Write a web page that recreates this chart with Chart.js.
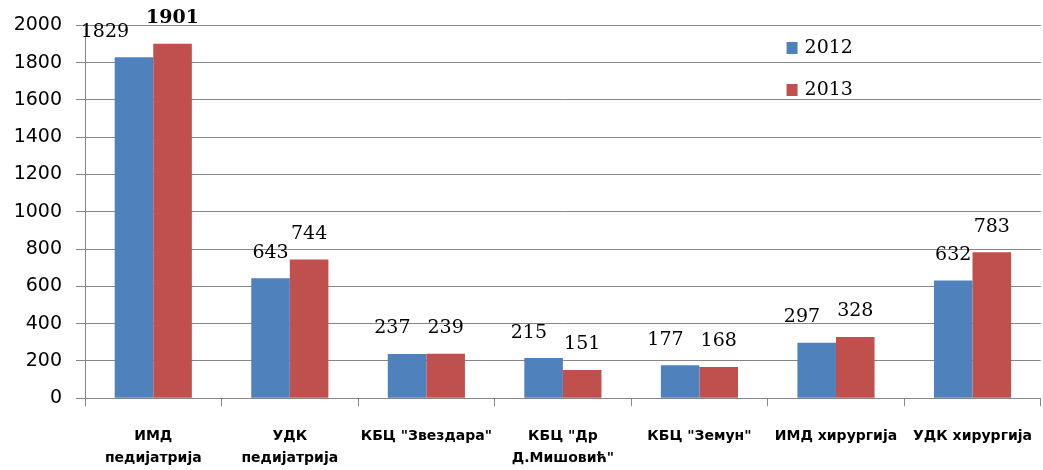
<!DOCTYPE html>
<html>
<head>
<meta charset="utf-8">
<script src="https://cdn.jsdelivr.net/npm/chart.js@4"></script>
<style>
html,body{margin:0;padding:0;background:#fff;overflow:hidden}
#wrap{width:1051px;height:489px}
</style>
</head>
<body>
<div id="wrap"><canvas id="grafico"></canvas></div>
<script>
const categorias=[['ИМД','педијатрија'],['УДК','педијатрија'],'КБЦ "Звездара"',['КБЦ "Др','Д.Мишовић"'],'КБЦ "Земун"','ИМД хирургија','УДК хирургија'];
const anos=['2012','2013'];
const valores2012=[1829,643,237,215,177,297,632];
const valores2013=[1901,744,239,151,168,328,783];
const negrito2013=[true,false,false,false,false,false,false];
const yTicks=[0,200,400,600,800,1000,1200,1400,1600,1800,2000];
const cores=['#4F81BD','#C0504D'];

const cinza='#868686';

// rotulos acima das barras + legenda desenhada a mao
const rotulos={
 id:'rotulos',
 afterDatasetsDraw(chart){
  const ctx=chart.ctx;
  ctx.save();
  ctx.textAlign='center';
  ctx.textBaseline='bottom';
  ctx.fillStyle='#000';
  const m0=chart.getDatasetMeta(0),m1=chart.getDatasetMeta(1);
  m0.data.forEach((b0,i)=>{
   const b1=m1.data[i];
   const v0=chart.data.datasets[0].data[i],v1=chart.data.datasets[1].data[i];
   ctx.font=(negrito2013[i]?'bold ':'')+'19px "DejaVu Serif"';
   const w1=ctx.measureText(String(v1)).width;
   ctx.fillText(String(v1),b1.x,b1.y-16);
   ctx.font='19px "DejaVu Serif"';
   const w0=ctx.measureText(String(v0)).width;
   let x0=b0.x;
   const esq=b1.x-w1/2, y0=b0.y-16, yr=b1.y-16;
   if(y0-yr<18 && x0+w0/2>esq-4) x0=esq-17-w0/2;
   ctx.fillText(String(v0),x0,y0);
  });
  // legenda
  const a=chart.chartArea;
  const lx=a.left+0.734*(a.right-a.left);
  chart.data.datasets.forEach((ds,i)=>{
   const cy=48+i*42;
   ctx.fillStyle=ds.backgroundColor;
   ctx.fillRect(lx,cy-6,11,12);
   ctx.fillStyle='#000';
   ctx.textAlign='left';
   ctx.textBaseline='middle';
   ctx.font='19px "DejaVu Serif"';
   ctx.fillText(ds.label,lx+18,cy);
  });
  ctx.restore();
 }
};

new Chart(document.getElementById('grafico'),{
 type:'bar',
 data:{
  labels:categorias,
  datasets:[
   {label:anos[0],data:valores2012,backgroundColor:cores[0]},
   {label:anos[1],data:valores2013,backgroundColor:cores[1]}
  ]
 },
 options:{
  responsive:true,
  maintainAspectRatio:false,
  animation:false,
  categoryPercentage:0.565,
  barPercentage:1,
  layout:{padding:{top:12,right:0,left:0,bottom:0}},
  plugins:{legend:{display:false},tooltip:{enabled:false}},
  scales:{
   x:{
    grid:{offset:true,drawOnChartArea:false,tickLength:8,color:cinza},
    border:{color:cinza,width:1},
    ticks:{color:'#000',font:{family:'"DejaVu Sans"',size:14,weight:'bold',lineHeight:1.6},padding:19,maxRotation:0,autoSkip:false}
   },
   y:{
    min:0,max:2000,
    afterBuildTicks(ax){ax.ticks=yTicks.map(v=>({value:v}));},
    afterFit(ax){ax.width=85;},
    grid:{color:cinza,tickLength:9,lineWidth:1},
    border:{color:cinza,width:1},
    ticks:{color:'#000',font:{family:'"DejaVu Sans"',size:19},padding:14,callback:v=>String(v)}
   }
  }
 },
 plugins:[rotulos]
});
</script>
</body>
</html>
